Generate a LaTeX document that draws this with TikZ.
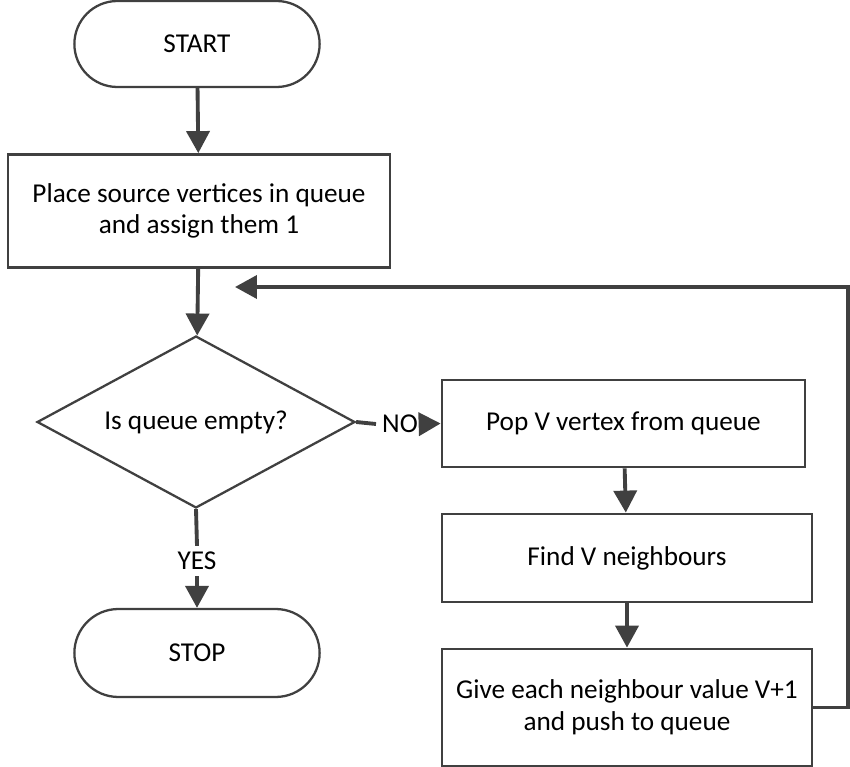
\documentclass[tikz,border=0pt]{standalone}
\usepackage{fontspec}
\setmainfont{Carlito}
\usetikzlibrary{shapes.geometric, shapes.misc, arrows.meta, positioning}

\begin{document}
\begin{tikzpicture}[x=0.02cm, y=-0.02cm, >={Triangle[length=4.4mm, width=4.6mm]},
  every node/.style={font=\fontsize{15.5}{18}\selectfont, text=black},
  terminal/.style={draw=black!75, line width=1.3pt, rounded rectangle, minimum width=5.14cm, minimum height=1.72cm},
  process/.style={draw=black!75, line width=1.6pt, rectangle, align=center, inner sep=0pt},
  decision/.style={draw=black!75, line width=1.3pt, diamond, aspect=1.85, inner sep=0pt, minimum width=6.36cm, minimum height=3.44cm},
  flow/.style={draw=black!75, line width=2.2pt}]
\useasboundingbox (0,0) rectangle (850,767);
\node[terminal] (start) at (197,44) {START};
\node[process, minimum width=7.64cm, minimum height=2.26cm] (place) at (199,211) {Place source vertices in queue\\and assign them 1};
\node[decision] (empty) at (196,422) {Is queue empty?};
\node[process, minimum width=7.26cm, minimum height=1.74cm] (pop) at (623.5,423.5) {Pop V vertex from queue};
\node[process, minimum width=7.4cm, minimum height=1.76cm] (find) at (627,558) {Find V neighbours};
\node[process, minimum width=7.4cm, minimum height=2.34cm] (give) at (627,707.5) {Give each neighbour value V+1\\and push to queue};
\node[terminal, minimum height=1.76cm] (stop) at (197,653) {STOP};
\node (no) at (400,424) {NO};
\node (yes) at (197,561) {YES};
\coordinate (back) at (235,287);
\coordinate (corner) at (848,287);
% main line
\draw[flow, ->] (start) -- (place);
\draw[flow, ->] (place) -- (empty);
\draw[flow] (empty.east) -- (no.west);
\draw[flow, ->] (no.east) -- (pop.west);
\draw[flow, ->] (pop) -- (find);
\draw[flow, ->] (find) -- (give);
\draw[flow] (empty.south) -- (yes.north);
\draw[flow, ->] (yes.south) -- (stop.north);
% loop back
\draw[flow, ->] (give.east) -| (corner) -- (back);
\end{tikzpicture}
\end{document}
